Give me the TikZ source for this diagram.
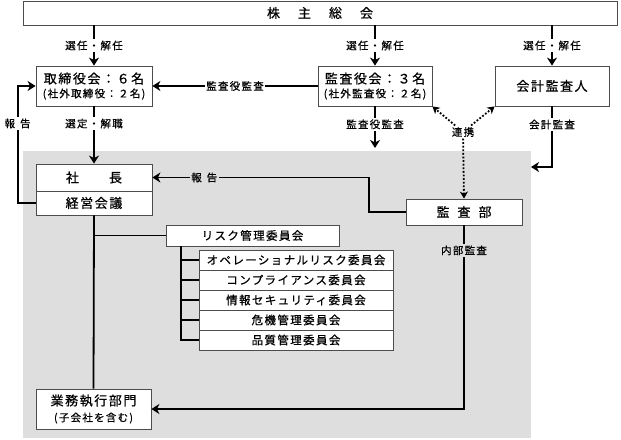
\documentclass[tikz,border=0pt]{standalone}
\usepackage{fontspec}
\setmainfont{Noto Sans CJK JP}[LetterSpace=12, FakeBold=0.6]
\usetikzlibrary{arrows.meta}

\definecolor{graybg}{RGB}{222,222,222}
\newcommand\bigtxt{\fontsize{13}{15}\selectfont}
\newcommand\labtxt{\fontsize{10.5}{12}\selectfont}
\newcommand\comtxt{\fontsize{11.5}{13}\selectfont}

\tikzset{
  box/.style={draw=black!70, line width=0.8pt, fill=white, inner sep=0pt},
  conn/.style={line width=1.8pt, draw=black},
  arr/.style={conn, -{Stealth[length=8pt,width=10pt,inset=2.5pt]}},
  dotarr/.style={line width=1.8pt, dash pattern=on 1.8pt off 1.8pt,
    -{Stealth[length=7pt,width=8pt,inset=2pt]}},
  lbl/.style={fill=white, font=\labtxt, inner sep=1.5pt},
  lblg/.style={lbl, fill=graybg},
}

\begin{document}
\begin{tikzpicture}[x=1pt,y=-1pt]
    \useasboundingbox (0,0) rectangle (621,439);
    \fill[graybg] (23,151) rectangle (531,438);

    \node[box, minimum width=594pt, minimum height=24pt, font=\bigtxt] (kabunushi) at (320,13)
      {株\hspace{18pt}主\hspace{18pt}総\hspace{18pt}会};
    \node[box, minimum width=116pt, minimum height=40pt, align=center, font=\labtxt] (torishimari) at (94,86)
      {{\bigtxt 取締役会：６名}\\[2pt](社外取締役：２名)};
    \node[box, minimum width=114pt, minimum height=40pt, align=center, font=\labtxt] (kansayaku) at (375,86)
      {{\bigtxt 監査役会：３名}\\[2pt](社外監査役：２名)};
    \node[box, minimum width=114pt, minimum height=40pt, font=\bigtxt] (kaikei) at (552,86) {会計監査人};
    \node[box, minimum width=116pt, minimum height=27pt, font=\bigtxt] (shacho) at (94,177.5)
      {社\hspace{30pt}長};
    \node[box, minimum width=116pt, minimum height=24pt, font=\bigtxt] (keiei) at (94,203) {経営会議};
    \node[box, minimum width=116pt, minimum height=26pt, font=\bigtxt] (kansabu) at (464,212)
      {監\hspace{8pt}査\hspace{8pt}部};
    \node[box, minimum width=173pt, minimum height=21pt, font=\comtxt] (risk) at (252.5,235.5) {リスク管理委員会};
    \foreach \name [count=\i] in {オペレーショナルリスク委員会, コンプライアンス委員会,
        情報セキュリティ委員会, 危機管理委員会, 品質管理委員会}
      \node[box, minimum width=194pt, minimum height=20pt, font=\comtxt] (iin\i) at (296,240+20*\i) {\name};
    \node[box, minimum width=115pt, minimum height=40pt, align=center, font=\labtxt] (gyomu) at (93.5,409)
      {{\bigtxt 業務執行部門}\\[4pt](子会社を含む)};
    \node[lbl] (renkei) at (463,132) {連携};

    % from the shareholders
    \draw[arr] (kabunushi.south -| torishimari.north) -- node[lbl]{選任・解任} (torishimari.north);
    \draw[arr] (kabunushi.south -| kansayaku.north) -- node[lbl]{選任・解任} (kansayaku.north);
    \draw[arr] (kabunushi.south -| kaikei.north) -- node[lbl]{選任・解任} (kaikei.north);

    \draw[arr] (kansayaku.west) -- node[lbl]{監査役監査} (torishimari.east);
    \draw[arr] (torishimari.south) -- node[lbl,pos=0.3]{選定・解職} (shacho.north);
    \coordinate (kansain) at (375,148);
    \draw[arr] (kansayaku.south) -- node[lbl,pos=0.43]{監査役監査} (kansain);
    \coordinate (kaikeiin) at (531,167);
    \draw[arr] (kaikei.south) |- node[lbl,pos=0.15]{会計監査} (kaikeiin);

    % reports
    \draw[arr] (keiei.west) -- ++(-18,0) |- node[lbl,pos=0.34]{報\hspace{5pt}告} (torishimari.west);
    \draw[arr] (kansabu.west) -- ++(-37,0) |- node[lblg,pos=0.88]{報\hspace{5pt}告} (shacho.east);

    \draw[dotarr] (renkei) -- (kansayaku.south east);
    \draw[dotarr] (renkei) -- (kaikei.south west);
    \draw[dotarr] (renkei) -- (kansabu.north);

    \draw[arr] (kansabu.south) |- node[lblg,pos=0.068]{内部監査} (gyomu.east);

    % committees
    \draw[conn] (keiei.south) -- (gyomu.north);
    \draw[conn] (keiei.south |- risk.west) -- (risk.west);
    \coordinate (trunk) at (181,246);
    \draw[conn] (trunk) |- (iin5.west);
    \foreach \i in {1,...,4}
      \draw[conn] (trunk |- iin\i.west) -- (iin\i.west);
\end{tikzpicture}
\end{document}
